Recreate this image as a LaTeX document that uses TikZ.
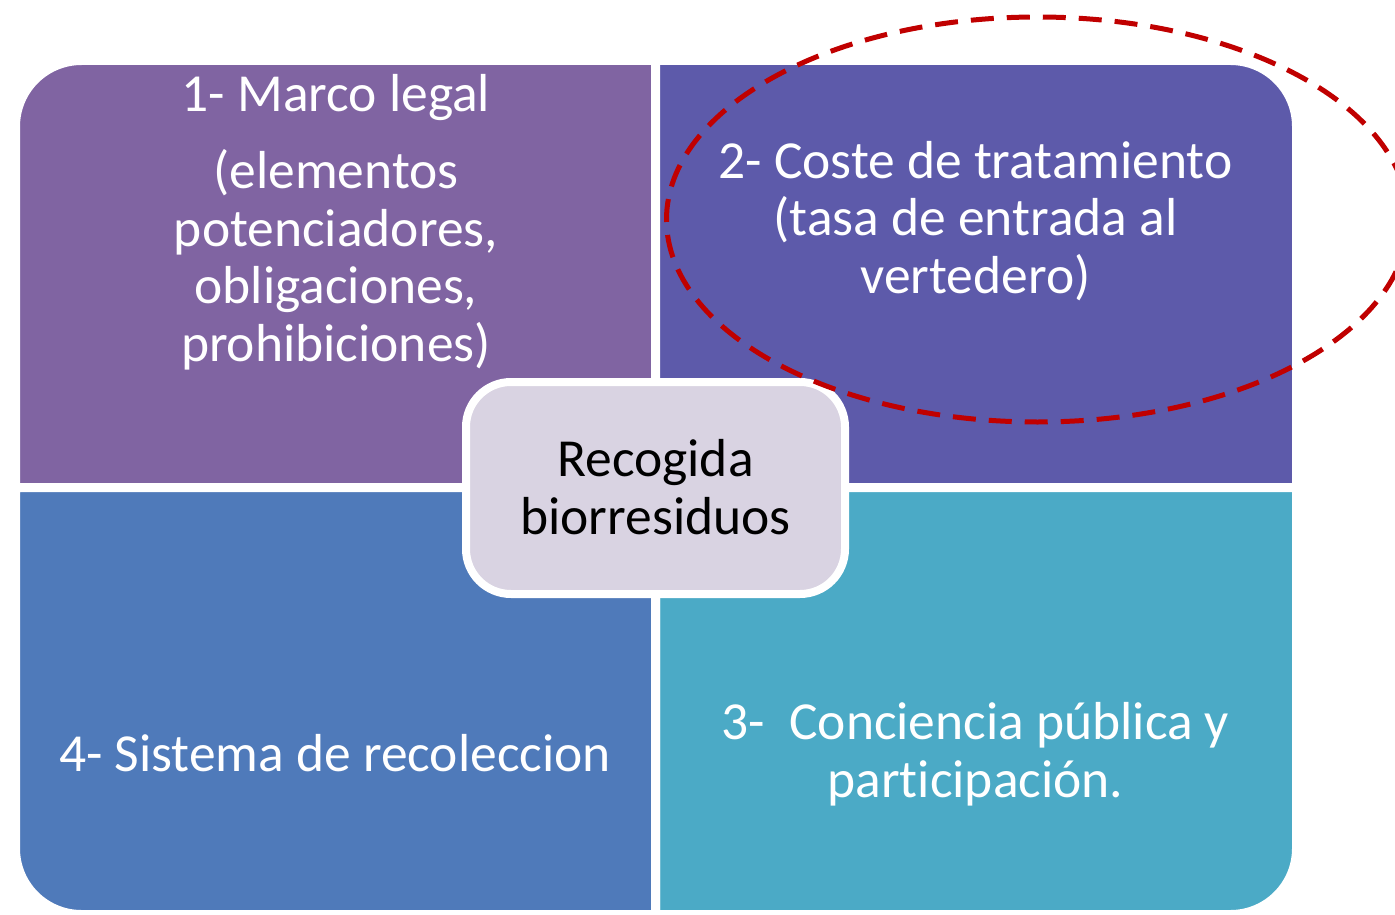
\documentclass[tikz,border=0pt]{standalone}
\usepackage{fontspec}
\setmainfont{Carlito}[Ligatures=NoCommon]
\usetikzlibrary{shadows,shapes.geometric}
\definecolor{qone}{HTML}{8064A2}
\definecolor{qtwo}{HTML}{5D5AAA}
\definecolor{qthree}{HTML}{4BAAC6}
\definecolor{qfour}{HTML}{4F7ABA}
\definecolor{cbox}{HTML}{D9D3E2}
\definecolor{ered}{HTML}{C00000}
\tikzset{
  quad/.style={draw=white, line width=9pt},
  qtext/.style={text=white, align=center, inner sep=0pt, font=\fontsize{53.5}{57.5}\selectfont},
  ctext/.style={text=black, align=center, inner sep=0pt, font=\fontsize{53.5}{57.5}\selectfont},
  centerbox/.style={draw=white, line width=8pt, fill=cbox, rounded corners=45pt,
     drop shadow={shadow xshift=2pt, shadow yshift=-2pt, opacity=0.3}},
  focus/.style={draw=ered, line width=5pt, dash pattern=on 23pt off 13pt}
}
\begin{document}
\begin{tikzpicture}[x=1pt,y=-1pt]
\useasboundingbox (0,0) rectangle (1395,915);
% outer white frame with shadow
\draw[draw=white, fill=white, line width=9pt, rounded corners=66pt,
      drop shadow={shadow xshift=2pt, shadow yshift=-2pt, opacity=0.3}]
  (15.5,60.5) rectangle (1296.5,914.5);
% quadrant 1 (top left)
\draw[quad, fill=qone] (15.5,487.5) -- (15.5,126.5) .. controls (15.5,90.05) and (45.05,60.5) .. (81.5,60.5)
  -- (655.5,60.5) -- (655.5,487.5) -- cycle;
% quadrant 2 (top right)
\draw[quad, fill=qtwo] (655.5,487.5) -- (655.5,60.5) -- (1230.5,60.5) .. controls (1266.95,60.5) and (1296.5,90.05) .. (1296.5,126.5)
  -- (1296.5,487.5) -- cycle;
% quadrant 3 (bottom right)
\draw[quad, fill=qthree] (655.5,487.5) -- (1296.5,487.5) -- (1296.5,848.5) .. controls (1296.5,884.95) and (1266.95,914.5) .. (1230.5,914.5)
  -- (655.5,914.5) -- cycle;
% quadrant 4 (bottom left)
\draw[quad, fill=qfour] (15.5,487.5) -- (655.5,487.5) -- (655.5,914.5) -- (81.5,914.5) .. controls (45.05,914.5) and (15.5,884.95) .. (15.5,848.5)
  -- cycle;
% texts
\node[qtext] (t1) at (336,98) {1- Marco legal};
\node[qtext] (t1b) at (336,260) {(elementos\\potenciadores,\\obligaciones,\\prohibiciones)};
\node[qtext] (t2) at (975.5,221) {2- Coste de tratamiento\\(tasa de entrada al\\vertedero)};
\node[qtext] (t3) at (975.5,754) {3-\ \ Conciencia pública y\\participación.};
\node[qtext] (t4) at (335,753) {4- Sistema de recoleccion};
% center box
\node[centerbox, minimum width=379pt, minimum height=212pt] (c) at (655.5,488) {};
\node[ctext] (ct) at (655.5,487) {Recogida\\biorresiduos};
% dashed ellipse
\node[focus, ellipse, minimum width=742pt, minimum height=405pt, inner sep=0pt] (e) at (1037.5,219.5) {};
\end{tikzpicture}
\end{document}
